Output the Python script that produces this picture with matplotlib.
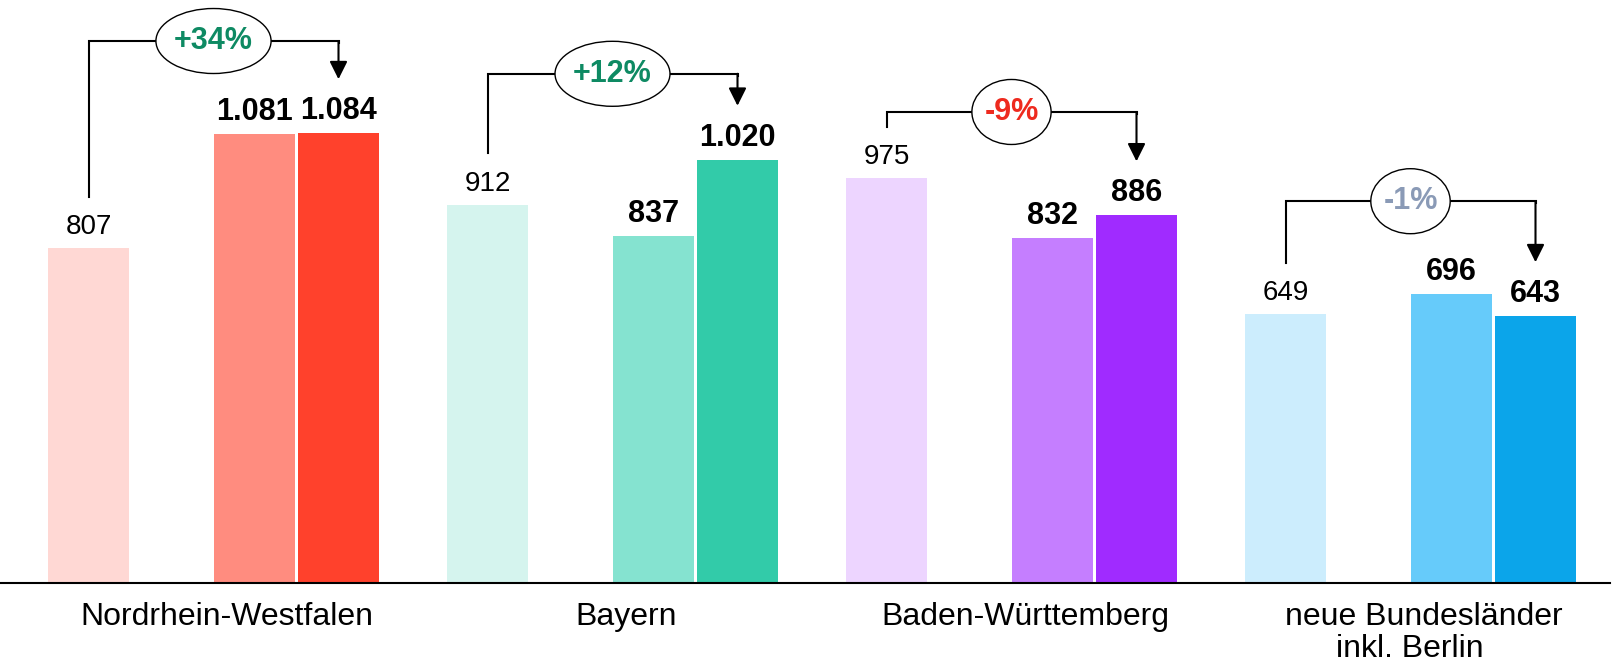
import matplotlib
matplotlib.use("Agg")
import matplotlib.pyplot as plt
from matplotlib.patches import Ellipse

plt.rcParams['font.family'] = ['Liberation Sans', 'DejaVu Sans']

# ---- data ----
regions = ["Nordrhein-Westfalen", "Bayern", "Baden-Württemberg", "neue Bundesländer\ninkl. Berlin"]
v_first = [807, 912, 975, 649]
v_second = [1081, 837, 832, 696]
v_third = [1084, 1020, 886, 643]
changes = ["+34%", "+12%", "-9%", "-1%"]
change_colors = ["#0E8A63", "#0E8A63", "#EE2A1E", "#8A9AB6"]
bracket_levels = [1306, 1227, 1135, 920]
colors_first = ["#FFD8D4", "#D5F4EE", "#EDD5FF", "#CCEDFD"]
colors_second = ["#FF8C7F", "#85E3D0", "#C57EFF", "#66CBFA"]
colors_third = ["#FF412C", "#32CBA9", "#A02BFF", "#0BA5EA"]

W, H = 1622, 665
fig = plt.figure(figsize=(W / 100, H / 100), dpi=100)
base_px = 583
ax = fig.add_axes([0, (H - base_px) / H, 1610 / W, base_px / H])

period = 399.0
off = [-138.5 / period, 27.5 / period, 111.5 / period]
bw = 81 / period

ax.set_xlim(-227 / period, (1610 - 227) / period)
ax.set_ylim(0, base_px / 0.415)

for s in ['top', 'right', 'left']:
    ax.spines[s].set_visible(False)
ax.spines['bottom'].set_linewidth(1.5)
ax.set_xticks([])
ax.set_yticks([])

def fmt(v):
    return f"{v:,}".replace(",", ".")

pct_texts = []
for i in range(len(regions)):
    xs = [i + o for o in off]
    vals = [v_first[i], v_second[i], v_third[i]]
    cols = [colors_first[i], colors_second[i], colors_third[i]]
    for k in range(3):
        ax.bar(xs[k], vals[k], width=bw, color=cols[k], zorder=2)
        ax.annotate(fmt(vals[k]), (xs[k], vals[k]), xytext=(0, 10), textcoords='offset points',
                    ha='center', va='baseline', fontsize=20 if k == 0 else 22,
                    fontweight='normal' if k == 0 else 'bold', color='black')
    # bracket
    lvl = bracket_levels[i]
    ax.plot([xs[0], xs[0], xs[2], xs[2]], [v_first[i] + 123, lvl, lvl, lvl - 5],
            color='black', lw=1.5, solid_joinstyle='miter', zorder=3)
    ax.annotate('', xy=(xs[2], v_third[i] + 130), xytext=(xs[2], lvl),
                arrowprops=dict(arrowstyle='-|>,head_length=0.6,head_width=0.3',
                                mutation_scale=18, lw=1.5, color='black',
                                shrinkA=0, shrinkB=0), zorder=3)
    xc = (xs[0] + xs[2]) / 2
    t = ax.text(xc, lvl, changes[i], ha='center', va='center', fontsize=22,
                fontweight='bold', color=change_colors[i], zorder=5)
    pct_texts.append((t, xc, lvl))
    # category label (one baseline per line)
    for j, line in enumerate(regions[i].split("\n")):
        ax.annotate(line, (i, 0), xytext=(-10 * j, -30.5 - j * 22.5),
                    textcoords='offset points', ha='center', va='baseline', fontsize=23,
                    color='black', annotation_clip=False)

fig.canvas.draw()
r = fig.canvas.get_renderer()
p0 = ax.transData.transform((0, 0))
p1 = ax.transData.transform((1, 1))
px_x = p1[0] - p0[0]
px_y = p1[1] - p0[1]
for t, xc, lvl in pct_texts:
    bb = t.get_window_extent(r)
    w_px = bb.width * 1.46
    h_px = 65
    e = Ellipse((xc, lvl), w_px / px_x, h_px / px_y, facecolor='white',
                edgecolor='black', lw=1.0, zorder=4)
    ax.add_patch(e)

fig.savefig("out.png", dpi=100)
